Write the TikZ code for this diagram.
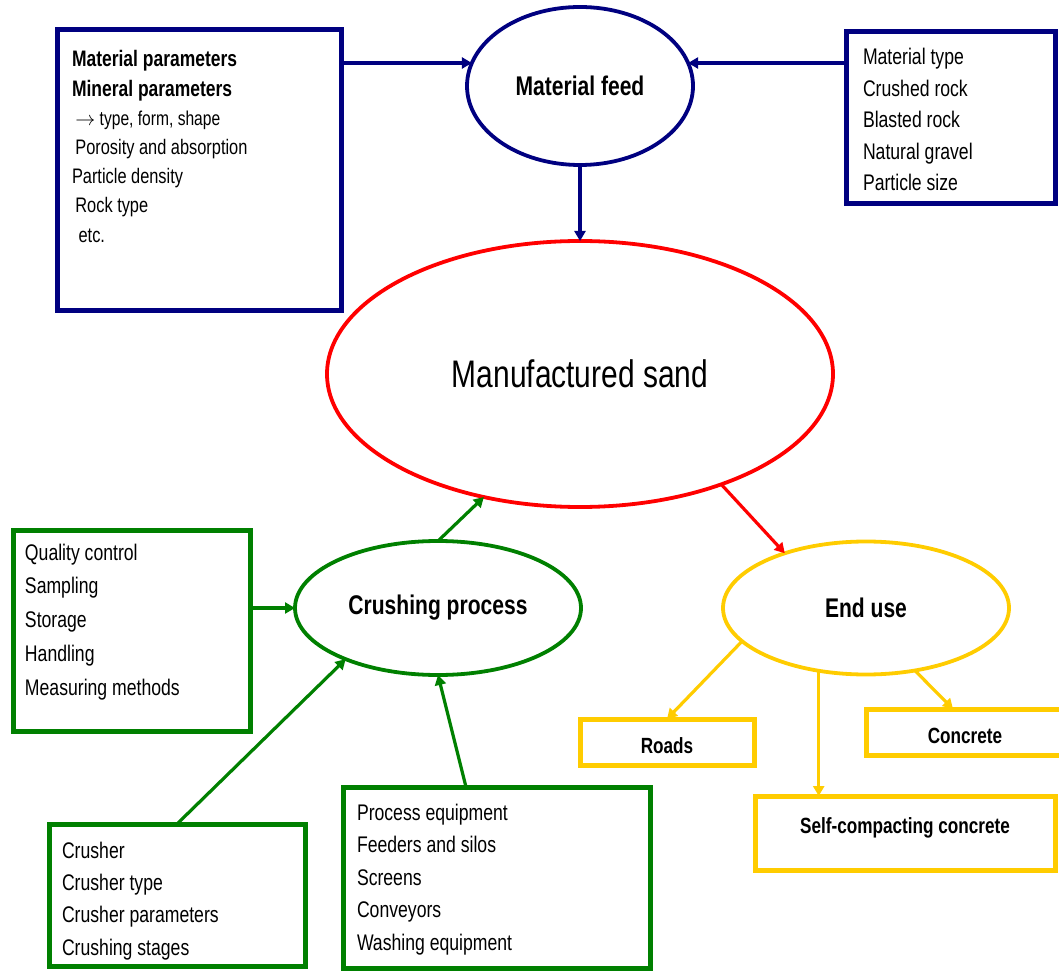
\documentclass[tikz,border=0pt]{standalone}
\usepackage{fontspec}
\setmainfont{Liberation Sans}[FakeStretch=0.78]
\usetikzlibrary{shapes.geometric,arrows.meta}
\definecolor{feedblue}{RGB}{0,0,128}
\definecolor{crushgreen}{RGB}{0,128,0}
\definecolor{usegold}{RGB}{255,204,0}

\begin{document}
\begin{tikzpicture}[x=0.5pt, y=-0.5pt,
		oval/.style={ellipse, draw=#1, line width=1.9pt, inner sep=0pt, outer sep=0pt},
		listbox/.style={rectangle, draw=#1, line width=2.5pt, anchor=north west, align=left, outer sep=0pt, text height=8pt, execute at begin node={\spaceskip=0pt\xspaceskip=0pt}},
		usebox/.style={rectangle, draw=usegold, line width=2.5pt, outer sep=0pt, text height=11.5pt, text depth=0pt, font=\bfseries\fontsize{11}{13}\selectfont},
		arr/.style={draw=#1, line width=1.6pt, -{Triangle[length=5pt,width=5.5pt]}},
		headfont/.style={font=\bfseries\fontsize{13.5}{16}\selectfont}]
				\useasboundingbox (0,0) rectangle (1059,972);

				% 楕円
				\node[oval=feedblue, minimum width=113pt, minimum height=79pt, headfont] (feed) at (580,86) {Material feed};
				\node[oval=red, minimum width=253pt, minimum height=133pt, font=\fontsize{19.2}{22}\selectfont] (sand) at (580,374) {Manufactured sand};
				\node[oval=crushgreen, minimum width=143pt, minimum height=67pt, headfont] (crush) at (438,608) {Crushing process};
				\node[oval=usegold, minimum width=143pt, minimum height=66.5pt, headfont] (enduse) at (866,608) {End use};

				% 箱
				\node[listbox=feedblue, text width=127pt, inner xsep=7.5pt, inner ysep=10.5pt, text depth=111.5pt, font=\fontsize{10.5}{14.6}\selectfont] (params) at (57,30)
					{{\bfseries\fontsize{11.2}{14.6}\selectfont Material parameters}\\
					{\bfseries\fontsize{11.2}{14.6}\selectfont Mineral parameters}\\
					\hspace*{1.7pt}{\fontsize{10}{14.6}\selectfont $\rightarrow$ type, form, shape}\\
					\hspace*{1.7pt}Porosity and absorption\\
					Particle density\\
					\hspace*{1.7pt}Rock type\\
					\hspace*{3.3pt}etc.};
				\node[listbox=feedblue, text width=87.5pt, inner xsep=8.5pt, inner ysep=8.5pt, text depth=61pt, font=\fontsize{11.3}{15.75}\selectfont] (types) at (846,32)
					{Material type\\ Crushed rock\\ Blasted rock\\ Natural gravel\\ Particle size};
				\node[listbox=crushgreen, text width=106.5pt, inner xsep=6pt, inner ysep=7pt, text depth=78.5pt, font=\fontsize{11.3}{16.9}\selectfont] (qc) at (13,530)
					{Quality control\\ Sampling\\ Storage\\ Handling\\ Measuring methods};
				\node[listbox=crushgreen, text width=115pt, inner xsep=6.5pt, inner ysep=9pt, text depth=45pt, font=\fontsize{11.3}{16.2}\selectfont] (crusher) at (49,824)
					{Crusher\\ Crusher type\\ Crusher parameters\\ Crushing stages};
				\node[listbox=crushgreen, text width=139.5pt, inner xsep=7pt, inner ysep=8.5pt, text depth=65.5pt, font=\fontsize{11.3}{16.25}\selectfont] (proc) at (343,787)
					{Process equipment\\ Feeders and silos\\ Screens\\ Conveyors\\ Washing equipment};
				\node[usebox, minimum width=87pt, minimum height=23pt] (roads) at (667,742) {Roads};
				\node[usebox, minimum width=99pt, minimum height=23pt] (conc) at (965,732) {Concrete};
				\node[usebox, minimum width=150pt, minimum height=37pt, text height=8pt, text depth=8pt] (scc) at (905,833) {Self-compacting concrete};

				% 矢印
				\draw[arr=feedblue] (params.east |- feed.168) -- (feed.168);
				\draw[arr=feedblue] (types.west |- feed.12) -- (feed.12);
				\draw[arr=feedblue] (feed.south) -- (sand.north);
				\draw[arr=crushgreen] (crush.north) -- (sand.232);
				\draw[arr=red] (sand.322) -- (enduse.146);
				\draw[arr=crushgreen] (qc.east |- crush.west) -- (crush.west);
				\draw[arr=crushgreen] (crusher.north) -- (crush.209);
				\draw[arr=crushgreen] ([xshift=61.5pt]proc.north west) -- (crush.south);
				\draw[arr=usegold] (enduse.195) -- (roads.north);
				\draw[arr=usegold] (enduse.233) -- (enduse.233 |- scc.north);
				\draw[arr=usegold] (enduse.308) -- ([xshift=-6pt]conc.north);
			\end{tikzpicture}
\end{document}
